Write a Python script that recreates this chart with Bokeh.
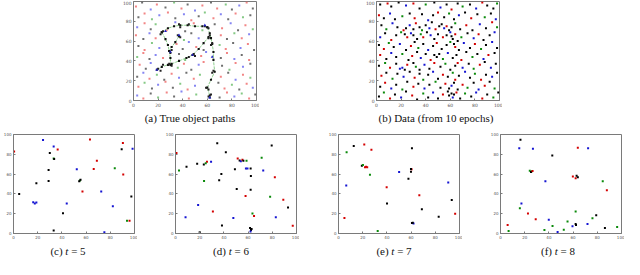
from bokeh.plotting import figure
from bokeh.layouts import column, row
from bokeh.models import Range1d, FixedTicker, Div, Spacer
from bokeh.embed import file_html
from bokeh.resources import INLINE

TICKS = [0, 20, 40, 60, 80, 100]
COL = {"k": "#000000", "r": "#d40000", "b": "#1414d2", "g": "#0a8a0a"}
PALE = {"k": "#555555", "r": "#f07070", "b": "#7070f0", "g": "#70c070"}

# (a) background clutter points
a_pts = [(2,95,"r"),(7,99,"k"),(14,92,"b"),(19,97,"r"),(26,94,"k"),(33,99,"g"),(39,93,"r"),(44,97,"k"),(50,91,"b"),(56,96,"r"),(63,99,"k"),(68,93,"r"),(75,97,"g"),(80,92,"k"),(86,96,"b"),(92,99,"r"),(97,93,"k"),
         (4,84,"k"),(9,88,"r"),(15,82,"g"),(21,86,"b"),(28,89,"r"),(34,83,"k"),(41,87,"b"),(47,81,"r"),(53,85,"k"),(58,89,"g"),(65,83,"r"),(71,87,"b"),(77,82,"k"),(83,88,"r"),(89,84,"g"),(95,86,"k"),
         (3,74,"b"),(9,78,"r"),(14,72,"k"),(18,77,"g"),(27,71,"r"),(34,79,"b"),(42,70,"k"),(49,78,"r"),(56,71,"g"),(66,77,"k"),(72,73,"r"),(79,78,"b"),(85,71,"k"),(91,76,"r"),(97,72,"g"),
         (2,66,"r"),(8,62,"k"),(13,68,"b"),(18,63,"r"),(41,61,"g"),(47,68,"k"),(53,63,"b"),(71,66,"r"),(76,62,"k"),(82,68,"g"),(88,63,"r"),(94,67,"b"),
         (4,55,"k"),(9,51,"r"),(15,58,"g"),(21,53,"b"),(35,57,"r"),(40,52,"k"),(45,59,"b"),(51,54,"r"),(57,51,"k"),(70,56,"g"),(75,52,"r"),(81,58,"k"),(87,53,"b"),(93,57,"r"),(98,51,"k"),
         (3,44,"g"),(8,48,"r"),(13,42,"k"),(18,46,"b"),(24,43,"r"),(37,47,"k"),(42,41,"g"),(55,45,"r"),(59,49,"b"),(71,43,"k"),(76,48,"r"),(82,42,"b"),(88,46,"k"),(94,41,"r"),
         (5,36,"r"),(10,32,"k"),(14,38,"b"),(36,33,"g"),(41,37,"r"),(47,31,"k"),(53,36,"b"),(57,39,"r"),(72,35,"k"),(78,31,"g"),(83,38,"r"),(89,34,"b"),(95,37,"k"),
         (3,24,"k"),(8,28,"b"),(13,22,"r"),(19,26,"g"),(25,21,"k"),(31,27,"r"),(37,23,"b"),(43,28,"k"),(49,22,"r"),(54,26,"g"),(71,24,"r"),(77,28,"k"),(83,21,"b"),(89,26,"r"),(95,23,"g"),
         (4,14,"r"),(9,18,"g"),(15,12,"k"),(20,16,"b"),(26,19,"r"),(32,13,"k"),(38,17,"g"),(44,11,"r"),(50,15,"b"),(69,18,"k"),(74,12,"r"),(80,16,"g"),(86,11,"k"),(92,17,"r"),(97,13,"b"),
         (3,5,"b"),(8,2,"r"),(14,7,"k"),(20,3,"g"),(27,8,"r"),(33,4,"k"),(39,9,"b"),(45,2,"r"),(51,6,"g"),(70,3,"k"),(76,8,"r"),(82,4,"b"),(88,7,"g"),(94,2,"r"),(99,6,"k")]

# (a) true object paths
a_track_x = [[19,23,28,31,37,43,48,53,57,61],[23,26,28,29,30,30],[23,28,33,38,44,50,56,60],[60,62,63,64,65,65,66,63,60,62],[37,34,31,29]]
a_track_y = [[31,34,36,37,40,43,46,52,58,64],[69,62,56,50,43,36],[69,73,75,76,76,75,75,74],[74,68,63,57,49,41,29,21,13,5],[65,59,54,50]]
a_obj = [(22,30),(20,32),(24,36),(45,44),(49,47),(50,45),(62,66),(61,63),(64,58),(63,56),(65,30),(64,28),(59,13),(61,11),(61,4),(63,6),(62,3),
         (37,77),(38,74),(45,77),(58,75),(61,73),(24,70),(22,67),(36,66),(38,64),(30,48),(31,51),(29,37),(31,35)]
a_arrows = [(37,66),(19,31),(30,49),(62,3),(48,46),(64,44),(26,70),(58,76)]

# (b) data from 10 epochs
b_pts = [(3,97,"k"),(9,98,"r"),(12,95,"k"),(18,99,"k"),(24,96,"b"),(30,98,"r"),(35,93,"k"),(40,97,"g"),(47,99,"k"),(52,94,"b"),(57,97,"k"),(61,92,"r"),(66,98,"k"),(70,95,"g"),(76,97,"k"),(81,93,"b"),(86,99,"r"),(90,96,"k"),(95,93,"k"),(98,98,"g"),
         (2,86,"r"),(6,83,"k"),(11,88,"b"),(15,82,"k"),(21,85,"g"),(27,88,"k"),(31,83,"r"),(37,87,"k"),(42,81,"b"),(46,86,"k"),(50,89,"r"),(55,84,"k"),(59,88,"g"),(63,82,"k"),(67,86,"b"),(72,89,"k"),(77,83,"r"),(82,87,"k"),(88,84,"g"),(93,88,"k"),(97,82,"b"),
         (4,76,"k"),(8,72,"g"),(13,78,"b"),(17,74,"k"),(22,71,"r"),(24,73,"k"),(27,76,"b"),(30,72,"k"),(32,78,"r"),(35,74,"k"),(37,71,"g"),(40,76,"k"),(43,73,"b"),(45,79,"k"),(48,72,"r"),(51,75,"k"),(53,77,"k"),(55,73,"b"),(57,75,"r"),(59,71,"k"),(61,74,"k"),(64,78,"g"),(68,72,"k"),(73,76,"r"),(78,71,"k"),(84,77,"b"),(89,73,"k"),(94,79,"r"),(98,74,"g"),
         (3,64,"b"),(7,68,"k"),(12,61,"r"),(16,66,"k"),(20,69,"g"),(23,67,"k"),(25,64,"r"),(28,68,"b"),(30,66,"k"),(33,62,"k"),(36,67,"g"),(38,64,"r"),(41,69,"k"),(44,66,"b"),(47,62,"k"),(50,67,"k"),(54,64,"r"),(57,66,"k"),(60,69,"b"),(61,65,"k"),(62,62,"k"),(64,67,"r"),(66,60,"k"),(69,64,"g"),(74,68,"k"),(79,63,"b"),(83,67,"r"),(87,61,"k"),(92,66,"k"),(96,69,"b"),
         (2,56,"k"),(6,52,"r"),(10,58,"g"),(14,54,"k"),(19,57,"b"),(24,51,"k"),(28,55,"r"),(31,59,"k"),(34,53,"g"),(38,57,"k"),(42,51,"b"),(46,55,"k"),(49,58,"r"),(53,52,"k"),(57,56,"k"),(60,59,"g"),(63,57,"k"),(64,54,"r"),(67,51,"k"),(71,58,"b"),(76,53,"k"),(80,57,"r"),(85,52,"g"),(89,56,"k"),(94,59,"b"),(98,53,"k"),
         (3,46,"r"),(8,42,"k"),(12,48,"b"),(16,44,"k"),(21,47,"g"),(26,41,"k"),(29,45,"r"),(33,49,"k"),(36,43,"b"),(40,47,"k"),(44,41,"r"),(47,46,"k"),(49,44,"k"),(51,47,"k"),(54,42,"g"),(58,48,"b"),(62,43,"k"),(65,46,"k"),(69,41,"r"),(73,49,"k"),(78,44,"g"),(82,47,"k"),(87,42,"b"),(91,46,"r"),(96,48,"k"),
         (2,35,"k"),(7,38,"g"),(11,33,"r"),(16,37,"k"),(19,32,"b"),(21,33,"b"),(23,31,"k"),(25,36,"r"),(30,38,"k"),(32,34,"g"),(35,31,"k"),(39,36,"b"),(43,32,"k"),(47,38,"r"),(52,34,"k"),(56,37,"g"),(60,31,"k"),(64,35,"k"),(66,38,"r"),(70,33,"b"),(75,37,"k"),(79,32,"g"),(84,36,"r"),(88,39,"k"),(93,33,"b"),(97,37,"k"),
         (4,25,"r"),(8,28,"k"),(13,22,"g"),(17,27,"k"),(22,24,"b"),(27,29,"k"),(31,23,"r"),(35,27,"k"),(38,21,"g"),(42,26,"k"),(46,29,"b"),(50,22,"k"),(54,26,"r"),(58,24,"k"),(62,28,"g"),(64,21,"r"),(67,25,"k"),(72,29,"b"),(76,23,"k"),(80,27,"g"),(85,21,"r"),(89,26,"k"),(94,24,"b"),(98,28,"k"),
         (3,14,"k"),(7,18,"r"),(12,12,"b"),(16,16,"k"),(21,11,"g"),(25,19,"k"),(30,14,"r"),(34,17,"k"),(39,12,"b"),(43,16,"k"),(48,19,"g"),(52,13,"k"),(56,17,"r"),(59,12,"k"),(61,15,"b"),(63,18,"k"),(66,11,"k"),(70,16,"r"),(74,13,"g"),(79,18,"k"),(83,11,"b"),(88,15,"r"),(92,19,"k"),(96,12,"g"),
         (2,4,"k"),(6,8,"g"),(11,2,"r"),(15,6,"k"),(20,3,"b"),(24,9,"k"),(29,5,"r"),(33,1,"k"),(38,7,"g"),(42,3,"k"),(46,8,"b"),(50,2,"k"),(54,6,"r"),(58,9,"k"),(59,5,"k"),(61,7,"k"),(62,3,"b"),(63,6,"k"),(65,8,"r"),(68,2,"k"),(72,7,"g"),(77,4,"k"),(81,8,"b"),(86,2,"r"),(90,6,"k"),(95,3,"g"),(99,8,"k")]

# (c) t = 5
c_pts = [(24.4,94.4,"b"),(63.2,95,"r"),(90.4,91.4,"r"),(33.2,88,"b"),(36.5,84.9,"r"),(89.4,85.2,"k"),(98.4,85.5,"b"),(0.5,82.9,"r"),(30,81.2,"k"),(33.2,75.7,"g"),(33.6,75.2,"k"),
         (68.9,73.4,"r"),(83.7,65.8,"g"),(29,64.1,"k"),(52.3,64.8,"b"),(66.3,65.1,"r"),(90.7,59.5,"r"),(29,53,"k"),(54.9,53.6,"g"),(54.3,52.8,"k"),(55.4,54.2,"k"),(18.9,50.7,"k"),
         (57,42.4,"r"),(72.5,42.4,"b"),(4.7,39.8,"k"),(97.4,37.5,"k"),(16.3,31.6,"b"),(17.6,30.3,"b"),(18.9,31.2,"b"),(44,30.3,"b"),(82.1,27.6,"b"),(40.9,20.4,"k"),
         (93.8,12.8,"g"),(95.9,12.8,"r"),(33.2,3,"k"),(75.1,1.3,"b")]
# (d) t = 6
d_pts = [(34.5,91.1,"k"),(79.5,88.9,"k"),(0.8,81.3,"r"),(41.6,82,"k"),(51.4,75.7,"r"),(53,73.8,"k"),(54,73.1,"b"),(55.3,74.4,"r"),(56.1,73.4,"k"),(58.7,73.4,"g"),(71.2,76.4,"g"),
         (17.9,70.5,"k"),(26,72.5,"r"),(23.4,69.8,"k"),(25,71,"g"),(29.4,72.5,"b"),(9.1,67.5,"k"),(2.9,63.6,"g"),(58.2,65.6,"b"),(59.5,65.6,"b"),(62.1,65.6,"k"),(49.1,64.9,"k"),
         (72.5,63.6,"b"),(37.9,60,"k"),(62.3,58,"k"),(82.1,56.7,"r"),(23.6,53.1,"g"),(36.1,53.8,"k"),(50.6,44.9,"k"),(62.1,44.3,"k"),(57.9,38,"r"),(78.2,37,"g"),(89.1,34.1,"r"),
         (18.7,28.9,"b"),(93,26.2,"k"),(30.9,22.3,"r"),(63.6,20.3,"g"),(64.9,17.7,"r"),(8.3,16.4,"b"),(47.8,15.7,"b"),(82.9,16.4,"b"),(38.4,8.2,"k"),(96.9,7.9,"r"),
         (61.6,5.6,"k"),(62.9,4.6,"k"),(62.4,3.6,"k"),(62,2,"b"),(20,1.3,"k")]
# (e) t = 7
e_pts = [(12.6,88.5,"k"),(21.3,89.8,"r"),(27.2,84.6,"r"),(60.7,86.2,"k"),(6.7,82,"g"),(19.3,68.5,"k"),(20.2,69.2,"g"),(21.9,66.9,"r"),(23.7,66.9,"r"),(22.8,67.5,"r"),
         (26,59.3,"g"),(50.1,62,"b"),(59.9,62.3,"k"),(60.4,64.9,"r"),(59.9,65.2,"k"),(57.8,55.4,"k"),(90.7,51.5,"b"),(6.4,48.5,"b"),(39.8,46.6,"r"),(66.8,38.7,"r"),
         (93.6,33.8,"k"),(40.1,30.2,"k"),(68.9,24.6,"k"),(82.8,17,"k"),(96.4,20,"r"),(4.9,15.7,"r"),(60.7,10.5,"k"),(62,10.2,"b"),(61.4,10.8,"k"),(32.4,2.6,"g")]
# (f) t = 8
f_pts = [(16.5,94.8,"k"),(15.5,86.2,"b"),(26.8,85.6,"b"),(63.9,86.6,"r"),(72.4,86.2,"b"),(42.8,78.7,"k"),(24.2,63.3,"g"),(26,63,"g"),(25.2,62.2,"k"),(26.5,63.2,"r"),
         (37.1,52.8,"b"),(59.8,57.7,"r"),(62.9,58.4,"k"),(62.1,55.7,"r"),(63.9,56.7,"k"),(84.5,52.8,"g"),(87.9,43.6,"r"),(17.3,30.2,"b"),(16,25.6,"g"),(62.1,22.3,"g"),
         (22.7,20.3,"r"),(29.1,14.4,"r"),(39.9,13.8,"b"),(79.1,18.4,"k"),(76,15.4,"g"),(55.4,12.1,"g"),(62.1,9.5,"k"),(62.4,8.5,"k"),(59.5,7.2,"b"),(71.9,9.5,"b"),
         (5.9,8.5,"r"),(6.7,2.6,"g"),(36.3,3.6,"g"),(43,7.5,"g"),(52.3,3.9,"g"),(47.2,1.6,"b"),(86.3,5.6,"k"),(96.4,6.6,"g")]

captions_top = ["(a) True object paths", "(b) Data (from 10 epochs)"]
captions_bottom = [("(c)", "5"), ("(d)", "6"), ("(e)", "7"), ("(f)", "8")]

FRAME_COL = "#7a7a7a"
SERIF = "'Liberation Serif', 'DejaVu Serif', serif"


def make_fig(width, height, left, right, top, bottom, fs):
    p = figure(width=width, height=height, x_range=Range1d(0, 100), y_range=Range1d(0, 100),
               output_backend="svg", toolbar_location=None,
               min_border_left=left, min_border_right=right, min_border_top=top, min_border_bottom=bottom)
    p.grid.visible = False
    p.outline_line_color = FRAME_COL
    p.outline_line_width = 1
    p.background_fill_color = "white"
    p.border_fill_color = "white"
    for ax in (p.xaxis[0], p.yaxis[0]):
        ax.ticker = FixedTicker(ticks=TICKS)
        ax.major_tick_in = 2
        ax.major_tick_out = 0
        ax.minor_tick_line_color = None
        ax.axis_line_color = FRAME_COL
        ax.major_tick_line_color = FRAME_COL
        ax.major_label_text_font_size = fs
        ax.major_label_text_color = "#555555"
        ax.major_label_text_font = "DejaVu Sans"
        ax.major_label_standoff = 2
    return p


def draw_pts(p, pts, pal, size, alpha=1.0):
    xs = [q[0] for q in pts]
    ys = [q[1] for q in pts]
    cs = [pal[q[2]] for q in pts]
    p.scatter(xs, ys, marker="square", size=size, fill_color=cs, line_color=None, fill_alpha=alpha)


def caption(html, width, height, lh):
    return Div(text=f'<div style="font-family:{SERIF};font-size:11px;text-align:center;line-height:{lh}px;color:#111;width:{width}px">{html}</div>',
               width=width, height=height, margin=(0, 0, 0, 0))


# top row
fa = make_fig(140, 110, 10, 3, 1, 10, "4.5px")
draw_pts(fa, a_pts, PALE, 2.0, 0.85)
for tx, ty in zip(a_track_x, a_track_y):
    fa.line(tx, ty, line_color="#8fd08f", line_width=1, line_dash="3 1")
for tx, ty in zip(a_track_x, a_track_y):
    fa.scatter(tx, ty, marker="square", size=2.1, fill_color="#111111", line_color=None)
fa.scatter([q[0] for q in a_obj], [q[1] for q in a_obj], marker="square", size=2.0, fill_color="#222222", line_color=None)
fa.scatter([q[0] for q in a_arrows], [q[1] for q in a_arrows], marker="triangle", size=3.0, fill_color="#2020c0", line_color=None)

fb = make_fig(140, 110, 10, 3, 1, 10, "4.5px")
draw_pts(fb, b_pts, COL, 2.0)

top_row = row(Spacer(width=119, height=110), fa, Spacer(width=103, height=110), fb)

cap_a = caption(captions_top[0], 160, 20, 16)
cap_b = caption(captions_top[1], 160, 20, 16)
cap_row1 = row(Spacer(width=110, height=20), cap_a, Spacer(width=86, height=20), cap_b)

# bottom row
figs = []
for pts in [c_pts, d_pts, e_pts, f_pts]:
    f = make_fig(137, 113, 8, 3, 4, 10, "4px")
    draw_pts(f, pts, COL, 2.0)
    figs.append(f)
bottom_row = row(figs[0], Spacer(width=25, height=113), figs[1], Spacer(width=26, height=113),
                 figs[2], Spacer(width=25, height=113), figs[3])

caps = [caption(f"{lab}&nbsp;<i>t</i>&nbsp;=&nbsp;{t}", 120, 14, 14) for lab, t in captions_bottom]
cap_row2 = row(Spacer(width=8, height=14), caps[0], Spacer(width=43, height=14), caps[1],
               Spacer(width=43, height=14), caps[2], Spacer(width=44, height=14), caps[3])

layout = column(top_row, cap_row1, bottom_row, cap_row2)

open("out.html", "w").write(file_html(layout, INLINE))
